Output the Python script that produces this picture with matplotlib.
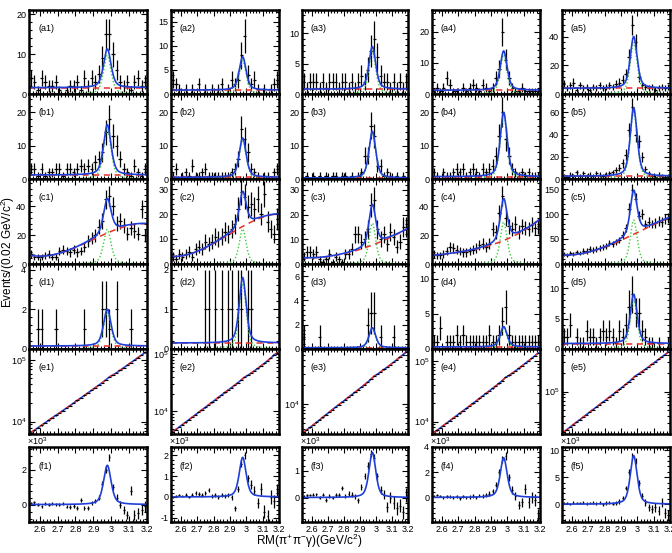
import numpy as np
import matplotlib
matplotlib.use("Agg")
import matplotlib.pyplot as plt
from matplotlib.ticker import MultipleLocator, AutoMinorLocator, LogLocator, NullFormatter, FuncFormatter

plt.rcParams['font.family'] = ['Liberation Sans', 'DejaVu Sans']
plt.rcParams['axes.unicode_minus'] = False
plt.rcParams['mathtext.fontset'] = 'custom'
plt.rcParams['mathtext.rm'] = 'Liberation Sans'
plt.rcParams['mathtext.it'] = 'Liberation Sans'

# binning: 33 bins of 0.02 GeV/c^2 between 2.54 and 3.20
x_lo, x_hi, bin_w = 2.54, 3.20, 0.02
centers = x_lo + bin_w / 2 + bin_w * np.arange(33)

# ---- event counts, rows a-d (one list per column) ----
counts_a = [
    [4, 3, 1, 4, 3, 2, 2, 3, 1, 0, 1, 2, 2, 3, 1, 4, 2, 4, 3, 5, 9, 15, 15, 10, 6, 3, 2, 3, 1, 3, 4, 2, 3],
    [3, 2, 1, 0, 1, 0, 1, 0, 2, 0, 1, 0, 1, 0, 1, 2, 0, 1, 3, 2, 3, 8, 12, 4, 2, 3, 1, 0, 1, 0, 1, 2, 3],
    [2, 1, 2, 2, 2, 1, 2, 1, 2, 2, 2, 1, 2, 2, 1, 2, 1, 2, 3, 2, 4, 7, 9, 6, 3, 2, 2, 1, 2, 1, 2, 1, 2],
    [1, 2, 1, 2, 5, 3, 1, 1, 0, 2, 1, 2, 3, 2, 1, 3, 2, 1, 2, 5, 8, 20, 11, 5, 2, 1, 1, 2, 1, 1, 1, 1, 1],
    [7, 4, 6, 8, 3, 6, 4, 5, 3, 5, 4, 6, 4, 5, 6, 5, 7, 8, 10, 14, 26, 48, 36, 12, 6, 5, 4, 5, 3, 4, 5, 4, 5],
]
counts_b = [
    [3, 3, 1, 3, 1, 2, 2, 3, 3, 1, 3, 3, 2, 3, 4, 3, 4, 3, 5, 6, 8, 14, 18, 13, 10, 6, 3, 2, 1, 4, 2, 1, 3],
    [1, 3, 0, 1, 2, 1, 4, 1, 1, 2, 3, 1, 1, 1, 1, 1, 1, 1, 2, 3, 6, 15, 12, 8, 3, 2, 1, 0, 1, 1, 0, 2, 3],
    [0, 1, 0, 1, 0, 1, 0, 1, 0, 1, 1, 0, 1, 1, 0, 1, 0, 1, 2, 7, 7, 16, 13, 4, 4, 1, 2, 1, 0, 1, 0, 1, 0],
    [2, 1, 0, 2, 1, 1, 2, 3, 2, 3, 1, 2, 3, 2, 1, 3, 2, 3, 4, 7, 13, 20, 12, 7, 3, 2, 1, 2, 1, 2, 1, 1, 1],
    [3, 2, 4, 3, 6, 3, 5, 3, 4, 3, 5, 4, 3, 4, 5, 6, 8, 10, 14, 22, 44, 65, 40, 34, 20, 9, 5, 3, 2, 4, 3, 2, 3],
]
counts_c = [
    [7, 5, 5, 5, 6, 7, 5, 5, 9, 10, 9, 8, 10, 8, 9, 12, 16, 18, 20, 26, 30, 45, 47, 40, 28, 30, 27, 21, 25, 23, 21, 38, 20],
    [3, 2, 4, 3, 4, 5, 3, 6, 7, 6, 9, 8, 9, 11, 10, 11, 13, 12, 14, 16, 22, 29, 27, 23, 24, 22, 26, 20, 28, 17, 14, 12, 18],
    [3, 5, 5, 4, 5, 2, 1, 2, 4, 1, 3, 2, 1, 4, 4, 6, 12, 12, 9, 10, 14, 24, 26, 14, 10, 12, 8, 13, 11, 7, 9, 15, 15],
    [7, 6, 6, 7, 9, 12, 11, 10, 9, 8, 8, 9, 10, 11, 13, 14, 12, 14, 24, 22, 35, 47, 32, 26, 24, 28, 22, 26, 25, 24, 27, 25, 26],
    [20, 18, 22, 20, 24, 22, 26, 26, 30, 28, 30, 32, 34, 36, 42, 40, 44, 48, 58, 72, 111, 148, 131, 97, 100, 80, 84, 80, 82, 86, 84, 90, 92],
]
counts_d = [
    [0, 0, 1, 1, 0, 0, 0, 1, 0, 0, 0, 0, 0, 0, 0, 1, 0, 0, 0, 0, 2, 2, 1, 0, 2, 0, 0, 0, 1, 0, 0, 0, 0],
    [0, 0, 0, 0, 0, 0, 0, 0, 0, 0, 1, 1, 0, 1, 0, 1, 0, 1, 1, 0, 1, 1, 0, 1, 1, 0, 0, 0, 0, 0, 0, 0, 0],
    [1, 0, 0, 0, 0, 1, 0, 0, 0, 0, 0, 0, 0, 0, 0, 0, 0, 0, 0, 0, 2, 3, 3, 0, 1, 0, 0, 0, 1, 0, 0, 0, 0],
    [1, 1, 3, 0, 1, 1, 1, 2, 1, 2, 1, 1, 1, 1, 1, 1, 1, 2, 1, 1, 2, 4, 6, 2, 1, 1, 1, 1, 1, 1, 1, 1, 1],
    [2, 2, 4, 0, 2, 1, 1, 3, 2, 2, 1, 2, 3, 2, 3, 2, 1, 3, 2, 4, 7, 9, 6, 6, 3, 2, 1, 1, 0, 1, 0, 0, 1],
]

# ---- row e: events (in 10^3) ----
counts_e = [
    [6.6, 7.25, 7.95, 8.7, 9.55, 10.5, 11.5, 12.6, 13.8, 15.1, 16.6, 18.2, 20.0, 22.0, 24.2, 26.6, 29.2,
     32.1, 35.3, 38.8, 42.7, 47.5, 53.0, 57.0, 62.0, 68.0, 74.5, 82.0, 90.0, 99.0, 109.0, 120.0, 132.0],
    [4.4, 4.85, 5.35, 5.9, 6.5, 7.2, 7.95, 8.8, 9.7, 10.7, 11.8, 13.0, 14.4, 15.9, 17.6, 19.4, 21.4,
     23.6, 26.0, 28.7, 31.7, 35.5, 39.5, 42.5, 46.5, 51.0, 56.0, 62.0, 68.5, 76.0, 85.0, 95.0, 106.0],
    [3.5, 3.85, 4.2, 4.6, 5.05, 5.55, 6.1, 6.7, 7.35, 8.05, 8.85, 9.7, 10.6, 11.6, 12.7, 13.9, 15.2,
     16.7, 18.3, 20.1, 22.1, 24.5, 27.5, 29.5, 32.0, 35.0, 38.0, 41.5, 45.5, 50.0, 55.0, 60.5, 66.5],
    [6.5, 7.15, 7.85, 8.6, 9.45, 10.4, 11.4, 12.5, 13.7, 15.0, 16.5, 18.1, 19.9, 21.9, 24.1, 26.5, 29.1,
     32.0, 35.2, 38.7, 42.6, 47.5, 53.5, 57.5, 62.5, 68.5, 75.0, 82.5, 91.0, 100.0, 110.0, 122.0, 135.0],
    [21.5, 23.6, 26.0, 28.6, 31.5, 34.6, 38.0, 41.8, 46.0, 50.5, 55.5, 61.0, 67.0, 73.5, 81.0, 89.0, 98.0,
     108.0, 119.0, 131.0, 145.0, 162.0, 182.0, 196.0, 213.0, 233.0, 255.0, 280.0, 307.0, 337.0, 370.0, 405.0, 445.0],
]

# ---- row f: background-subtracted yields (in 10^3) ----
yield_f = [
    [0.08, 0.12, 0.0, -0.1, 0.05, 0.0, 0.05, 0.02, 0.0, 0.05, -0.12, -0.15, -0.08, -0.2, 0.25, -0.2, -0.2,
     0.1, 0.2, 0.4, 1.2, 2.0, 2.7, 1.0, 0.4, 0.0, -0.3, -0.6, 0.8, -0.6, -0.5, -0.3, -0.1],
    [0.0, 0.05, 0.1, 0.05, 0.1, 0.0, 0.1, 0.2, 0.15, 0.1, 0.2, 0.35, 0.05, 0.1, 0.0, 0.1, 0.05,
     0.1, 0.0, -0.55, 0.4, 1.6, 2.0, 0.9, 0.6, 0.3, -0.3, 0.4, -0.7, -0.9, 0.0, -0.2, 0.3],
    [0.05, 0.08, 0.1, 0.1, 0.12, 0.0, 0.1, -0.1, 0.05, 0.0, 0.1, 0.1, 0.35, 0.05, 0.15, 0.1, 0.05,
     -0.1, 0.4, 0.8, 1.2, 1.65, 1.5, 0.8, 0.3, 0.1, -0.35, 0.0, -0.2, -0.4, -0.3, -0.55, 0.1],
    [0.1, 0.2, 0.1, 0.0, 0.1, 0.05, 0.0, 0.1, -0.05, 0.1, 0.0, 0.05, 0.1, 0.0, 0.15, 0.1, 0.2,
     0.3, 0.5, 1.0, 2.0, 3.0, 3.3, 1.6, 0.6, 0.1, -0.6, -0.4, 0.7, -0.4, 0.0, -0.2, -1.4],
    [0.2, 0.25, 0.1, 0.3, 0.2, 0.2, 0.3, 0.1, 0.2, 0.3, 0.2, 0.3, 0.0, 0.2, 0.3, 0.1, 0.2,
     0.5, 1.2, 3.0, 6.0, 8.8, 8.0, 4.0, 1.5, 0.3, -0.6, -0.9, -0.6, -1.2, 0.3, -1.6, -2.0],
]
yield_f_err = [
    [0.07, 0.07, 0.07, 0.08, 0.08, 0.08, 0.08, 0.09, 0.09, 0.09, 0.1, 0.1, 0.1, 0.11, 0.11, 0.12, 0.12,
     0.13, 0.13, 0.14, 0.15, 0.17, 0.2, 0.18, 0.18, 0.2, 0.22, 0.25, 0.28, 0.3, 0.3, 0.3, 0.3],
    [0.06, 0.06, 0.06, 0.07, 0.07, 0.07, 0.07, 0.08, 0.08, 0.08, 0.09, 0.09, 0.09, 0.1, 0.1, 0.1, 0.11,
     0.11, 0.12, 0.13, 0.14, 0.16, 0.18, 0.18, 0.2, 0.22, 0.25, 0.28, 0.3, 0.3, 0.32, 0.32, 0.32],
    [0.05, 0.05, 0.05, 0.06, 0.06, 0.06, 0.06, 0.07, 0.07, 0.07, 0.07, 0.08, 0.08, 0.08, 0.09, 0.09, 0.09,
     0.1, 0.1, 0.11, 0.12, 0.13, 0.14, 0.14, 0.15, 0.17, 0.2, 0.22, 0.24, 0.25, 0.25, 0.25, 0.25],
    [0.1, 0.1, 0.1, 0.11, 0.11, 0.11, 0.12, 0.12, 0.12, 0.13, 0.13, 0.14, 0.14, 0.15, 0.15, 0.16, 0.17,
     0.18, 0.19, 0.2, 0.22, 0.25, 0.3, 0.28, 0.3, 0.32, 0.35, 0.38, 0.4, 0.42, 0.45, 0.45, 0.45],
    [0.2, 0.2, 0.2, 0.22, 0.22, 0.22, 0.24, 0.24, 0.25, 0.26, 0.27, 0.28, 0.3, 0.3, 0.32, 0.34, 0.36,
     0.38, 0.4, 0.45, 0.5, 0.6, 0.6, 0.55, 0.6, 0.65, 0.7, 0.75, 0.8, 0.85, 0.9, 0.9, 0.9],
]

# ---- fit results ----
eta_c_mass, eta_c_fwhm, lor_frac = 2.978, 0.05, 0.5
sig_peak = {
    'a': [9.7, 6.9, 7.0, 12.6, 36.0],
    'b': [15.1, 11.8, 14.0, 19.3, 61.5],
    'c': [24.0, 14.0, 16.5, 29.0, 88.0],
    'd': [1.85, 1.65, 1.65, 2.9, 8.1],
    'f': [2.25, 1.9, 1.7, 3.15, 9.0],
}
bkg_flat = {
    'a': [1.6, 0.8, 0.8, 1.2, 4.0],
    'b': [1.2, 0.5, 0.3, 0.7, 2.5],
    'd': [0.15, 0.15, 0.1, 0.3, 0.9],
}
bkg_knot_x = [2.55, 2.75, 2.95, 3.19]
bkg_knots_c = [
    [6, 9, 20, 28],
    [3, 6.5, 14, 20],
    [2.5, 3.5, 7, 14],
    [6, 9, 15, 30],
    [18, 28, 55, 92],
]

# axis ranges and tick steps
ylims = {
    'a': [21.1, 17.4, 13.8, 26.9, 58.5],
    'b': [25.5, 25.5, 25.5, 25.5, 76.5],
    'c': [59, 34, 34.4, 58.8, 170],
    'd': [4.28, 2.14, 7.0, 12.1, 14.0],
}
ysteps = {
    'a': [10, 5, 5, 10, 20],
    'b': [10, 10, 10, 10, 20],
    'c': [20, 10, 10, 20, 50],
    'd': [2, 1, 2, 5, 5],
    'f': [2, 1, 1, 2, 5],
}
ylims_e = [(6300, 1.5e5), (4050, 1.22e5), (3300, 7.4e4), (6240, 1.57e5), (2.0e4, 5.0e5)]
ylims_f = [(-1.0, 3.3), (-1.2, 2.4), (-0.92, 1.9), (-1.95, 4.0), (-3.3, 10.6)]

BLUE = '#1f3fd8'
RED = '#e8302a'
GREEN = '#3ccc3c'

W, H = 672, 553
fig = plt.figure(figsize=(W / 100, H / 100), dpi=100)

col_px = [(29, 147), (171, 279), (302, 408), (432, 540), (562, 670)]
row_px = [(10, 94), (94, 179), (179, 264), (264, 349), (349, 434), (447, 522)]
rows = ['a', 'b', 'c', 'd', 'e', 'f']

xs = np.linspace(x_lo, x_hi, 500)


def shape(x):
    lor = 1.0 / (1.0 + ((x - eta_c_mass) / (eta_c_fwhm / 2)) ** 2)
    gau = np.exp(-4 * np.log(2) * (x - eta_c_mass) ** 2 / eta_c_fwhm ** 2)
    return lor_frac * lor + (1 - lor_frac) * gau


def style(ax, last_row):
    ax.set_xlim(x_lo, x_hi)
    ax.xaxis.set_major_locator(MultipleLocator(0.1))
    ax.xaxis.set_minor_locator(MultipleLocator(0.02))
    ax.tick_params(which='both', direction='in', top=True, right=True,
                   labelsize=6.5, width=0.8, pad=2)
    ax.tick_params(which='major', length=4)
    ax.tick_params(which='minor', length=2)
    for s in ax.spines.values():
        s.set_linewidth(1.8)
    if last_row:
        ax.xaxis.set_major_formatter(FuncFormatter(lambda v, _: f"{v:g}"))
    else:
        ax.tick_params(labelbottom=False)


for r, row in enumerate(rows):
    for c in range(5):
        x0, x1 = col_px[c]
        y0, y1 = row_px[r]
        ax = fig.add_axes([x0 / W, 1 - y1 / H, (x1 - x0) / W, (y1 - y0) / H])
        style(ax, row == 'f')

        if row in 'abcd':
            n = np.array({'a': counts_a, 'b': counts_b, 'c': counts_c, 'd': counts_d}[row][c], float)
            keep = n > 0
            ax.errorbar(centers[keep], n[keep], yerr=np.sqrt(n[keep]), xerr=bin_w / 2,
                        fmt='none', ecolor='black', elinewidth=0.9, capsize=0)
            sig = sig_peak[row][c] * shape(xs)
            if row == 'c':
                coef = np.polyfit(bkg_knot_x, bkg_knots_c[c], 3)
                bkg = np.polyval(coef, xs)
            else:
                bkg = np.full_like(xs, bkg_flat[row][c])
            ax.plot(xs, sig, color=GREEN, ls=(0, (1, 1.5)), lw=1.0)
            ax.plot(xs, bkg, color=RED, ls=(0, (4, 3)), lw=1.1)
            ax.plot(xs, sig + bkg, color=BLUE, lw=1.2)
            ax.set_ylim(0, ylims[row][c])
            ax.yaxis.set_major_locator(MultipleLocator(ysteps[row][c]))
            ax.yaxis.set_minor_locator(AutoMinorLocator(5))
            ax.text(0.08, 0.78, f"({row}{c + 1})", transform=ax.transAxes, fontsize=6.5, va='center')

        elif row == 'e':
            n = np.array(counts_e[c]) * 1e3
            ax.plot(centers, n, color=BLUE, lw=1.2)
            ax.plot(centers, n, color=RED, ls=(0, (4, 3)), lw=1.1)
            ax.errorbar(centers, n, yerr=np.sqrt(n), xerr=bin_w / 2,
                        fmt='none', ecolor='black', elinewidth=0.8, capsize=0)
            ax.set_yscale('log')
            ax.set_ylim(*ylims_e[c])
            ax.yaxis.set_major_locator(LogLocator(base=10))
            ax.yaxis.set_minor_locator(LogLocator(base=10, subs=np.arange(2, 10)))
            ax.yaxis.set_minor_formatter(NullFormatter())
            ax.yaxis.set_major_formatter(FuncFormatter(lambda v, _: f"$10^{{{int(round(np.log10(v)))}}}$"))
            ax.tick_params(which='minor', length=2)
            ax.text(0.08, 0.78, f"(e{c + 1})", transform=ax.transAxes, fontsize=6.5, va='center')

        else:
            ax.errorbar(centers, yield_f[c], yerr=yield_f_err[c], xerr=bin_w / 4,
                        fmt='none', ecolor='black', elinewidth=0.9, capsize=0)
            ax.plot(xs, sig_peak['f'][c] * shape(xs), color=BLUE, lw=1.2)
            ax.set_ylim(*ylims_f[c])
            ax.yaxis.set_major_locator(MultipleLocator(ysteps['f'][c]))
            ax.yaxis.set_minor_locator(AutoMinorLocator(5))
            ax.yaxis.set_major_formatter(FuncFormatter(lambda v, _: f"{v:g}"))
            ax.text(0.08, 0.74, f"(f{c + 1})", transform=ax.transAxes, fontsize=6.5, va='center')
            ax.text(-0.02, 1.0, r"$\times$10$^{3}$", transform=ax.transAxes, fontsize=6.5,
                    ha='left', va='bottom')

fig.text(0.012, 0.545, r"Events/(0.02 GeV/c$^{2}$)", rotation=90, fontsize=8.5,
         ha='center', va='center')
fig.text(0.46, 0.022, r"RM($\pi^{+}\pi^{-}\gamma$)(GeV/c$^{2}$)", fontsize=8.5,
         ha='center', va='center')

fig.savefig("out.png", dpi=100)
